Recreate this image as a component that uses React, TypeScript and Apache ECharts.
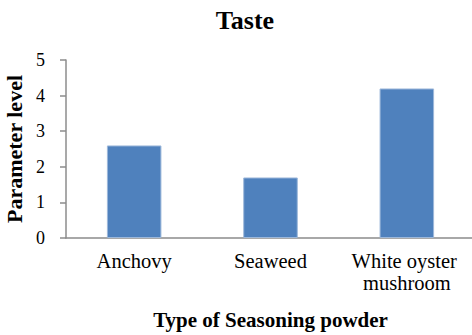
import React, { useEffect, useRef } from "react";
import * as echarts from "echarts";

const categories = ["Anchovy", "Seaweed", "White oyster mushroom"];
const values = [2.6, 1.7, 4.2];
const yTicks = { min: 0, max: 5, interval: 1 };

export default function App() {
  const ref = useRef<HTMLDivElement>(null);
  useEffect(() => {
    if (!ref.current) return;
    const chart = echarts.init(ref.current, undefined, { renderer: "svg" });
    const font = "'Liberation Serif', 'Times New Roman', serif";
    chart.setOption({
      animation: false,
      textStyle: { fontFamily: font },
      title: {
        text: "Taste",
        left: 240,
        textAlign: "center",
        top: 2,
        textStyle: { fontFamily: font, fontSize: 26, fontWeight: "bold", color: "#000" },
      },
      grid: { left: 66, top: 60, width: 409, height: 178, containLabel: false, outerBoundsMode: "none" },
      xAxis: {
        type: "category",
        data: categories,
        name: "Type of Seasoning powder",
        nameLocation: "middle",
        nameGap: 71,
        nameTextStyle: { fontFamily: font, fontSize: 21, fontWeight: "bold", color: "#000" },
        axisLine: { show: true, lineStyle: { color: "#8c8c8c", width: 1.5 } },
        axisTick: { show: false },
        axisLabel: {
          fontFamily: font,
          fontSize: 20.5,
          color: "#000",
          margin: 12,
          lineHeight: 22,
          interval: 0,
          width: 130,
          overflow: "break",
        },
      },
      yAxis: {
        type: "value",
        min: yTicks.min,
        max: yTicks.max,
        interval: yTicks.interval,
        name: "Parameter level",
        nameLocation: "middle",
        nameGap: 35,
        nameTextStyle: { fontFamily: font, fontSize: 22, fontWeight: "bold", color: "#000" },
        axisLine: { show: true, lineStyle: { color: "#8c8c8c", width: 1.5 } },
        axisTick: { show: true, length: 6, lineStyle: { color: "#8c8c8c", width: 1.5 } },
        splitLine: { show: false },
        axisLabel: { fontFamily: font, fontSize: 18, color: "#000", margin: 21 },
      },
      series: [
        {
          type: "bar",
          data: values,
          barWidth: "40%",
          itemStyle: { color: "#4F81BD", borderColor: "#9DB8DA", borderWidth: 1 },
        },
      ],
    });
    return () => chart.dispose();
  }, []);
  return <div ref={ref} style={{ width: 472, height: 335, position: "absolute", left: 0, top: 0, background: "#fff" }} />;
}
